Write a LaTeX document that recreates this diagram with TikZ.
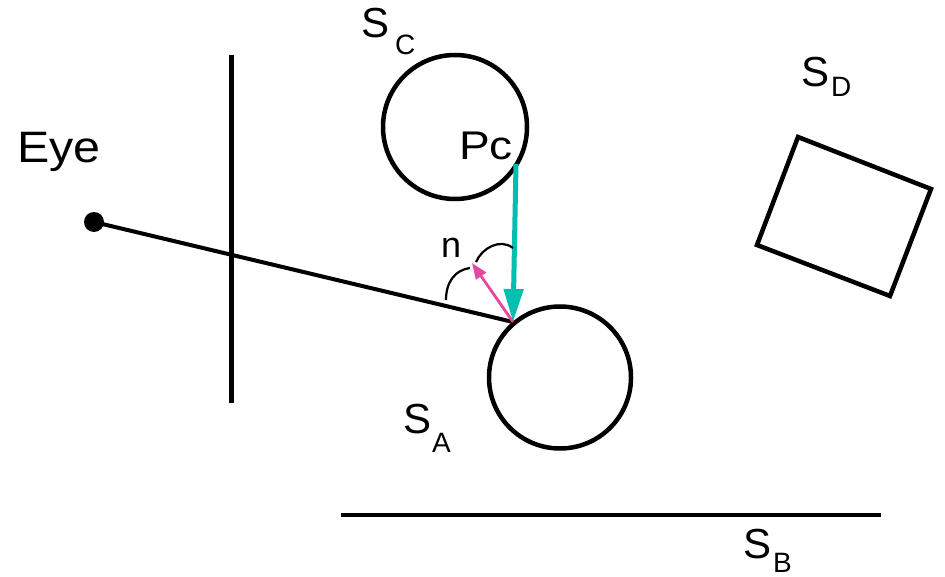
\documentclass[tikz,border=0pt]{standalone}
\usepackage{fontspec}
\setmainfont{Liberation Sans}
\usetikzlibrary{arrows.meta}
\definecolor{tealc}{RGB}{0,191,176}
\definecolor{pinkc}{RGB}{228,72,160}
\tikzset{
  obj/.style={draw=black, line width=4.5pt},
  lbl/.style={anchor=base west, inner sep=0pt, font=\fontsize{42}{42}\selectfont},
  sub/.style={anchor=base west, inner sep=0pt, font=\fontsize{28}{28}\selectfont},
}
\begin{document}
\begin{tikzpicture}[x=1pt,y=-1pt]
\useasboundingbox (0,0) rectangle (945,577);
% screen
\coordinate (scrtop) at (231,55);
\coordinate (scrbot) at (231,403);
\draw[obj, line width=5pt] (scrtop) -- (scrbot);
% spheres
\node[obj, circle, minimum size=144pt, inner sep=0pt] (SC) at (455,127) {};
\node[obj, circle, minimum size=142pt, inner sep=0pt] (SA) at (560,377.5) {};
% eye
\node[circle, fill=black, minimum size=20pt, inner sep=0pt] (eye) at (94,222) {};
\coordinate (hit) at (513,322);
\coordinate (pc) at (516,164);
\draw[line width=4pt] (eye.center) -- (hit);
% plane S_B
\coordinate (b1) at (341,515);
\coordinate (b2) at (881,515);
\draw[obj] (b1) -- (b2);
% box S_D
\draw[obj, line join=miter] (798,137) -- (931,189) -- (890,296) -- (757,245) -- cycle;
% teal shadow ray
\draw[tealc, line width=5pt, -{Triangle[length=33pt,width=19pt]}] (pc) -- (hit);
% normal
\coordinate (ntip) at (472,263);
\draw[pinkc, line width=2.8pt, -{Triangle[length=16pt,width=12pt]}] (hit) -- (ntip);
% angle arcs
\draw[line width=2.2pt] (446,300) .. controls (446,282) and (455,270) .. (470,268);
\draw[line width=2.2pt] (476,262) .. controls (482,248) and (500,238) .. (513,248);
% labels
\node[lbl, font=\fontsize{44}{44}\selectfont, xscale=1.1] (eyel) at (17,163) {Eye};
\node[lbl, font=\fontsize{40}{40}\selectfont, xscale=1.15] (pcl) at (459,160) {Pc};
\node[lbl, font=\fontsize{36}{36}\selectfont] (nl) at (441,258) {n};
\node[lbl] (scl) at (361,38) {S};
\node[sub] (scs) at (395,55) {C};
\node[lbl] (sdl) at (801,87) {S};
\node[sub] (sds) at (831,97) {D};
\node[lbl] (sal) at (403,433) {S};
\node[sub] (sas) at (432,452) {A};
\node[lbl] (sbl) at (743,558) {S};
\node[sub] (sbs) at (773,572) {B};
\end{tikzpicture}
\end{document}
